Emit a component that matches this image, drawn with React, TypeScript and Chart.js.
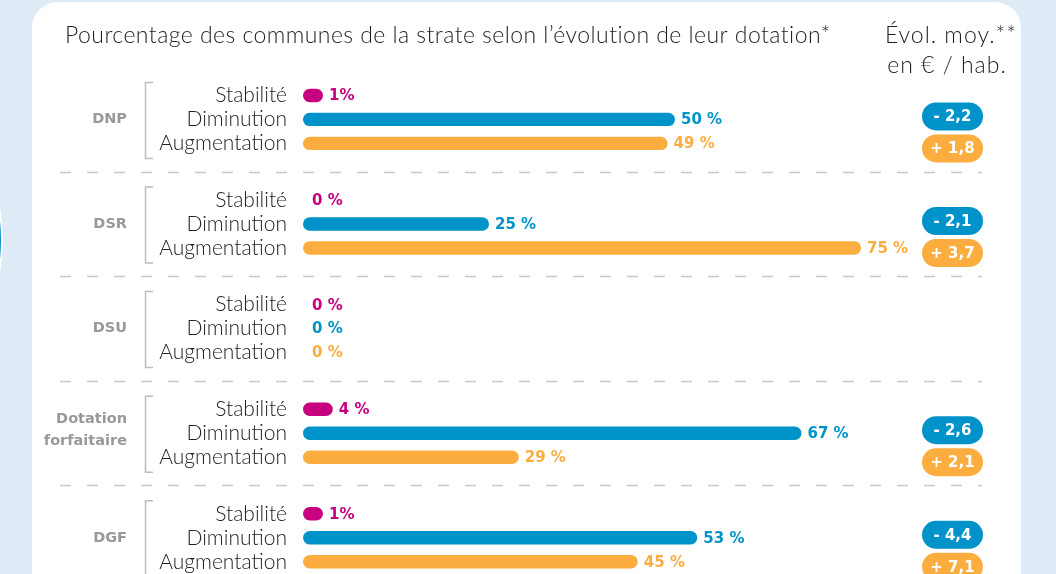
import React, { useEffect, useRef } from 'react';
import { Chart, registerables } from 'chart.js';

Chart.register(...registerables);

// ---- data ----
const categories = ['DNP', 'DSR', 'DSU', 'Dotation forfaitaire', 'DGF'];
const seriesNames = ['Stabilité', 'Diminution', 'Augmentation'];
const stabilite = [1, 0, 0, 4, 1];
const diminution = [50, 25, 0, 67, 53];
const augmentation = [49, 75, 0, 29, 45];
const evolDiminution: (number | null)[] = [-2.2, -2.1, null, -2.6, -4.4];
const evolAugmentation: (number | null)[] = [1.8, 3.7, null, 2.1, 7.1];
const titleText = 'Pourcentage des communes de la strate selon l’évolution de leur dotation*';
const headerLines = ['Évol. moy.**', 'en € / hab.'];

const seriesValues = [stabilite, diminution, augmentation];
const seriesColors = ['#c6007e', '#0093c9', '#fbad3f'];

const LABEL_FONT = 'Lato, "Open Sans", sans-serif';
const NUM_FONT = '"DejaVu Sans", Verdana, sans-serif';

function fmtEvol(v: number) {
  const s = Math.abs(v).toFixed(1).replace('.', ',');
  return (v < 0 ? '- ' : '+ ') + s;
}

function pill(ctx: CanvasRenderingContext2D, cx: number, cy: number, w: number, h: number, color: string, text: string) {
  const r = h / 2;
  ctx.beginPath();
  ctx.moveTo(cx - w / 2 + r, cy - r);
  ctx.lineTo(cx + w / 2 - r, cy - r);
  ctx.arc(cx + w / 2 - r, cy, r, -Math.PI / 2, Math.PI / 2);
  ctx.lineTo(cx - w / 2 + r, cy + r);
  ctx.arc(cx - w / 2 + r, cy, r, Math.PI / 2, Math.PI * 1.5);
  ctx.closePath();
  ctx.fillStyle = color;
  ctx.fill();
  ctx.fillStyle = '#ffffff';
  ctx.font = `bold 15px ${NUM_FONT}`;
  ctx.textAlign = 'center';
  ctx.textBaseline = 'middle';
  ctx.fillText(text, cx, cy + 1);
}

const overlayPlugin = {
  id: 'overlay',
  afterDatasetsDraw(chart: any) {
    const ctx: any = chart.ctx;
    const xScale = chart.scales.x;
    const x0 = xScale.getPixelForValue(0);
    ctx.save();

    // title
    ctx.fillStyle = '#1e1e1e';
    ctx.font = `300 23px ${LABEL_FONT}`;
    ctx.textAlign = 'left';
    ctx.textBaseline = 'alphabetic';
    ctx.letterSpacing = '0.45px';
    ctx.fillText(titleText, 65, 43);
    ctx.textAlign = 'center';
    ctx.letterSpacing = '1px';
    ctx.fillText(headerLines[0], 951, 43);
    ctx.fillText(headerLines[1], 947, 73);
    ctx.letterSpacing = '0px';

    const metas = seriesNames.map((_, i) => chart.getDatasetMeta(i));

    categories.forEach((cat, j) => {
      const yS = metas[0].data[j].y;
      const yD = metas[1].data[j].y;
      const yA = metas[2].data[j].y;

      // row labels + value labels
      seriesNames.forEach((name, i) => {
        const el = metas[i].data[j];
        const v = seriesValues[i][j];
        ctx.fillStyle = '#222222';
        ctx.font = `300 21px ${LABEL_FONT}`;
        ctx.textAlign = 'right';
        ctx.textBaseline = 'middle';
        ctx.fillText(name, 287, el.y);

        const lx = v > 0 && isFinite(el.x) ? el.x + 6 : x0 + 9;
        ctx.fillStyle = seriesColors[i];
        ctx.font = `bold 15px ${NUM_FONT}`;
        ctx.textAlign = 'left';
        ctx.fillText(v + (v === 1 ? '%' : ' %'), lx, el.y + 1);
      });

      // block label
      ctx.fillStyle = '#999999';
      ctx.font = `bold 14.5px ${NUM_FONT}`;
      ctx.textAlign = 'right';
      ctx.textBaseline = 'middle';
      const parts = cat.split(' ');
      if (parts.length > 1) {
        ctx.fillText(parts[0], 127, yD - 14);
        ctx.fillText(parts.slice(1).join(' '), 127, yD + 8);
      } else {
        ctx.fillText(cat, 127, yD);
      }

      // bracket
      ctx.strokeStyle = '#bdbdbd';
      ctx.lineWidth = 1.5;
      ctx.beginPath();
      ctx.moveTo(153, yS - 13);
      ctx.lineTo(145.5, yS - 13);
      ctx.lineTo(145.5, yA + 15);
      ctx.lineTo(153, yA + 15);
      ctx.stroke();

      // separator
      if (j < categories.length - 1) {
        const yNext = metas[0].data[j + 1].y;
        const ySep = Math.round((yA + yNext) / 2) + 0.5;
        ctx.save();
        ctx.setLineDash([11, 16]);
        ctx.strokeStyle = '#c8c8c8';
        ctx.lineWidth = 1.5;
        ctx.beginPath();
        ctx.moveTo(60, ySep);
        ctx.lineTo(982, ySep);
        ctx.stroke();
        ctx.restore();
      }

      // evolution pills
      const ed = evolDiminution[j];
      const ea = evolAugmentation[j];
      if (ed !== null) pill(ctx, 952.5, yD - 3, 61, 28, seriesColors[1], fmtEvol(ed));
      if (ea !== null) pill(ctx, 952.5, yD + 29, 61, 28, seriesColors[2], fmtEvol(ea));
    });

    ctx.restore();
  },
};

export default function App() {
  const canvasRef = useRef<HTMLCanvasElement>(null);

  useEffect(() => {
    const canvas = canvasRef.current;
    if (!canvas) return;
    const chart = new Chart(canvas, {
      type: 'bar',
      data: {
        labels: categories,
        datasets: seriesNames.map((name, i) => ({
          label: name,
          data: seriesValues[i].map((v) => (v === 0 ? null : v)),
          backgroundColor: seriesColors[i],
          borderRadius: 7,
          borderSkipped: false,
          categoryPercentage: 0.688,
          barPercentage: 0.56,
          minBarLength: i === 0 ? 20 : undefined,
          clip: false,
        })) as any,
      },
      options: {
        indexAxis: 'y',
        responsive: false,
        animation: false,
        devicePixelRatio: 1,
        layout: { padding: { left: 303, right: 9, top: 119.4, bottom: 36.2 } },
        scales: {
          x: { type: 'linear', min: 0, max: 100, display: false },
          y: { type: 'category', offset: false, display: false },
        },
        plugins: {
          legend: { display: false },
          tooltip: { enabled: false },
        },
      },
      plugins: [overlayPlugin],
    });
    return () => chart.destroy();
  }, []);

  return (
    <div
      style={{
        position: 'fixed',
        left: 0,
        top: 0,
        width: 1056,
        height: 574,
        overflow: 'hidden',
        background: '#deebf7',
      }}
    >
      <div
        style={{
          position: 'absolute',
          left: -363,
          top: 57,
          width: 362,
          height: 362,
          borderRadius: '50%',
          background: '#0a93cb',
          border: '2px solid #ffffff',
        }}
      />
      <div
        style={{
          position: 'absolute',
          left: 32,
          top: 2,
          width: 989,
          height: 640,
          borderRadius: 26,
          background: '#ffffff',
        }}
      />
      <canvas
        ref={canvasRef}
        width={1056}
        height={574}
        style={{ position: 'absolute', left: 0, top: 0, width: 1056, height: 574 }}
      />
    </div>
  );
}
